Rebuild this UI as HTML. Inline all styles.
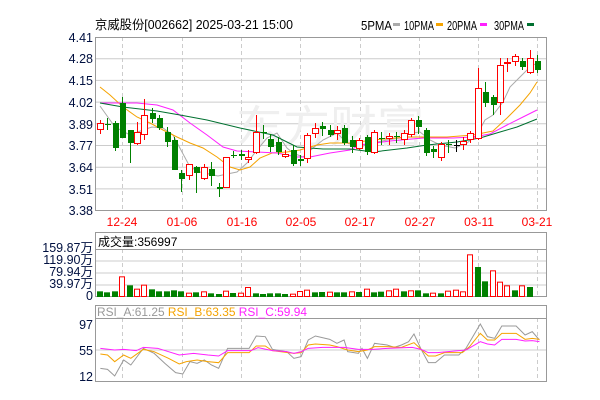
<!DOCTYPE html>
<html><head><meta charset="utf-8"><style>
html,body{margin:0;padding:0;background:#fff;}
body{width:600px;height:400px;overflow:hidden;position:relative;}
svg{position:absolute;left:0;top:0;}
text{font-family:"Liberation Sans","Noto Sans CJK SC",sans-serif;}
</style></head><body>
<svg id="s" width="600" height="400" xmlns="http://www.w3.org/2000/svg">
<g id="bg"></g>
<text x="236" y="142" font-size="44" fill="#efefef" font-family="'Noto Sans CJK SC',sans-serif" textLength="188" lengthAdjust="spacingAndGlyphs">东方财富</text>
<g id="main"></g>
<text x="95" y="29" font-size="12.5" fill="#000" textLength="198" lengthAdjust="spacingAndGlyphs">京威股份[002662] 2025-03-21 15:00</text>
<g font-size="12.5" fill="#000">
<text x="361" y="30" textLength="31" lengthAdjust="spacingAndGlyphs">5PMA</text><rect x="393" y="23" width="7" height="3" fill="#aaa"/>
<text x="404" y="30" textLength="30" lengthAdjust="spacingAndGlyphs">10PMA</text><rect x="436" y="23" width="7" height="3" fill="#f5a300"/>
<text x="447" y="30" textLength="30" lengthAdjust="spacingAndGlyphs">20PMA</text><rect x="480" y="23" width="7" height="3" fill="#ff20ff"/>
<text x="494" y="30" textLength="30" lengthAdjust="spacingAndGlyphs">30PMA</text><rect x="527" y="23" width="7" height="3" fill="#007030"/>
</g>
<g font-size="12.5" fill="#001040" text-anchor="end">
<text x="93" y="42">4.41</text><text x="93" y="63">4.28</text><text x="93" y="85">4.15</text><text x="93" y="107">4.02</text><text x="93" y="129">3.89</text><text x="93" y="150">3.77</text><text x="93" y="172">3.64</text><text x="93" y="194">3.51</text><text x="93" y="215">3.38</text>
<text x="93" y="252">159.87万</text><text x="93" y="264">119.90万</text><text x="93" y="276">79.94万</text><text x="93" y="288">39.97万</text><text x="93" y="300">0</text>
<text x="93" y="329">97</text><text x="93" y="355">55</text><text x="93" y="381">12</text>
</g>
<g font-size="12" fill="#f00" text-anchor="middle">
<text x="122" y="226">12-24</text><text x="182" y="226">01-06</text><text x="242" y="226">01-16</text><text x="301" y="226">02-05</text><text x="360" y="226">02-17</text><text x="420" y="226">02-27</text><text x="479" y="226">03-11</text><text x="537" y="226">03-21</text>
</g>
<text x="98" y="246" font-size="12" fill="#000">成交量:356997</text>
<text x="97" y="316" font-size="11.5" fill="#999" textLength="210" lengthAdjust="spacingAndGlyphs"><tspan fill="#999">RSI_A:61.25 </tspan><tspan fill="#f5a300">RSI_B:63.35 </tspan><tspan fill="#ff20ff">RSI_C:59.94</tspan></text>
</svg>
<script>
var NS="http://www.w3.org/2000/svg";
function el(p,t,a){var e=document.createElementNS(NS,t);for(var k in a)e.setAttribute(k,a[k]);document.getElementById(p).appendChild(e);return e;}
var gy=[37,58.7,80.4,102.1,123.8,145.5,167.2,188.9];
gy.forEach(function(y,i){if(i>0)el('bg','line',{x1:95,x2:546,y1:y,y2:y,stroke:'#ccc','stroke-width':1});});
[261,273,285].forEach(function(y){el('bg','line',{x1:95,x2:546,y1:y,y2:y,stroke:'#ccc'});});
el('bg','line',{x1:95,x2:546,y1:350,y2:350,stroke:'#ccc'});
var vx=[122.5,182.5,241.5,300.5,360.5,419.5,478.5,537.5];
vx.forEach(function(x){
 el('bg','line',{x1:x,x2:x,y1:37,y2:210.5,stroke:'#ccc','stroke-dasharray':'4,3'});
 el('bg','line',{x1:x,x2:x,y1:249,y2:296,stroke:'#ccc','stroke-dasharray':'4,3'});
 el('bg','line',{x1:x,x2:x,y1:318,y2:381,stroke:'#ccc','stroke-dasharray':'4,3'});
});
el('bg','rect',{x:95.5,y:37.5,width:451,height:173,fill:'none',stroke:'#999'});
el('bg','rect',{x:95.5,y:232.5,width:451,height:64,fill:'none',stroke:'#999'});
el('bg','line',{x1:95,x2:546,y1:249.5,y2:249.5,stroke:'#999'});
el('bg','rect',{x:95.5,y:305.5,width:451,height:76,fill:'none',stroke:'#999'});
el('bg','line',{x1:95,x2:546,y1:318.5,y2:318.5,stroke:'#999'});
var C=[['r',123,129,120,134],['g',124,125,118,130],['g',123,148,121,151],['g',103,138,97,138],['g',130,143,130,163],['r',132,143,122,145],['r',115,134,99,140],['g',113,119,108,123],['g',118,128,115,130],['g',132,142,127,147],
['g',140,170,137,170],['g',173,179,170,192],['r',164,175,164,180],['g',167,173,166,193],['r',167,178,164,180],['g',169,176,162,186],['g',187,189,183,197],['r',157,187,157,187],['g',155,156,151,158],['g',154,156,150,160],
['r',157,159,150,163],['r',132,152,115,154],['g',132,133,125,139],['g',139,147,134,152],['g',142,152,137,155],['r',154,156,150,158],['g',150,164,145,166],['g',159,161,155,166],['r',135,158,133,163],['r',128,133,123,138],
['g',126,129,122,136],['g',130,135,125,137],['r',130,133,126,140],['g',128,143,125,145],['g',140,147,136,153],['r',140,148,138,150],['g',137,152,135,155],['r',132,152,130,154],['g',138,139,132,145],['r',136,138,133,145],
['g',136,137,132,143],['r',133,139,130,145],['r',120,134,118,137],['g',120,127,116,134],['g',130,153,128,156],['g',149,152,146,158],['r',144,157,142,161],['g',144,145,140,153],['k',145,146,140,152],['r',141,144,137,150],
['r',133,139,131,143],['r',88,138,68,140],['g',92,103,82,107],['g',97,105,95,115],['r',65,102,58,115],['r',62,63,58,72],['r',56,61,54,66],['g',61,67,58,70],['r',58,72,50,74],['g',61,70,55,73]];
var V=[[180,'g'],[183,'g'],[180,'g'],[138,'r'],[162,'g'],[175,'r'],[163,'r'],[174,'g'],[180,'g'],[180,'g'],[177,'g'],[180,'g'],[187,'r'],[183,'g'],[183,'r'],[186,'g'],[188,'g'],[181,'r'],[185,'g'],[187,'r'],[170,'r'],[186,'g'],[188,'g'],[186,'g'],[186,'g'],[188,'g'],[190,'r'],[182,'r'],[178,'r'],[183,'g'],[182,'g'],[184,'r'],[183,'g'],[183,'g'],[183,'r'],[182,'g'],[175,'r'],[183,'g'],[181,'g'],[180,'r'],[175,'r'],[180,'g'],[180,'r'],[177,'g'],[186,'g'],[187,'r'],[186,'g'],[181,'r'],[178,'r'],[183,'r'],[72,'r'],[107,'g'],[150,'g'],[120,'r'],[154,'r'],[165,'r'],[177,'g'],[165,'r'],[167,'g']];
var col={r:'#f00',g:'#008000',k:'#000'};
var N=C.length;
function X(i){return 100+i*(537-100)/(N-1);}
function pl(pts,c){el('main','polyline',{points:pts.map(function(p){return p[0]+','+p[1];}).join(' '),fill:'none',stroke:c,'stroke-width':1});}
pl([[100,106],[115,127],[130,135],[143,130],[152,127],[163,128],[173,135],[182,152],[190,167],[200,172],[218,176],[227,174],[237,172],[247,163],[257,150],[267,138],[277,133],[287,148],[293,153],[303,157],[313,148],[323,140],[337,133],[347,143],[360,147],[373,143],[387,140],[400,138],[412,133],[420,132],[430,140],[440,145],[455,148],[467,143],[477,135],[485,120],[493,115],[503,102],[510,87],[520,77],[530,67],[537,63]],'#aaa');
pl([[100,87],[110,95],[123,107],[137,117],[150,123],[163,130],[177,137],[190,143],[203,148],[217,157],[230,167],[240,170],[250,167],[260,158],[272,153],[287,152],[300,150],[317,145],[330,143],[350,143],[373,140],[407,137],[427,137],[447,137],[473,135],[493,131],[507,118],[520,105],[530,93],[537,82]],'#f5a300');
pl([[100,103],[137,103],[157,105],[173,110],[190,123],[207,135],[223,147],[237,151],[257,152],[277,153],[297,157],[310,157],[330,153],[350,150],[360,145],[390,141],[423,138],[453,138],[473,137],[490,134],[507,125],[523,117],[537,110]],'#ff20ff');
pl([[100,103],[123,107],[157,111],[180,115],[207,120],[240,128],[273,135],[297,147],[323,149],[350,149],[373,152],[407,148],[427,145],[457,142],[480,138],[500,132],[517,127],[537,119]],'#007030');
C.forEach(function(c,i){
 var x=Math.round(X(i)),cc=col[c[0]];
 el('main','line',{x1:x+0.5,x2:x+0.5,y1:c[3],y2:c[4],stroke:cc});
 var h=Math.max(1,c[2]-c[1]);
 if(c[0]=='r') el('main','rect',{x:x-2.5,y:c[1]+0.5,width:6,height:h,fill:'#fff',stroke:cc});
 else el('main','rect',{x:x-2,y:c[1],width:6,height:h,fill:cc});
});
V.forEach(function(v,i){
 var x=Math.round(X(i)),h=(197-v[0])/3,cc=col[v[1]];
 if(v[1]=='r') el('main','rect',{x:x-2.5,y:296.5-h,width:5,height:h,fill:'#fff',stroke:cc});
 else el('main','rect',{x:x-3,y:297-h,width:6,height:h,fill:cc});
});
function rl(pts,c){pl(pts.map(function(p){return [p[0]/2.79,230+p[1]/3];}),c);}
rl([[280,415],[300,418],[320,438],[345,390],[365,405],[400,355],[430,370],[460,400],[490,428],[510,432],[530,395],[550,400],[570,390],[590,405],[610,415],[635,355],[670,355],[695,355],[715,318],[740,320],[760,358],[800,365],[820,385],[840,380],[860,330],[880,318],[920,328],[940,340],[960,330],[970,365],[1000,370],[1010,355],[1025,385],[1045,340],[1080,345],[1100,352],[1120,345],[1140,335],[1155,312],[1175,358],[1195,398],[1215,398],[1240,375],[1280,375],[1300,355],[1340,282],[1360,320],[1380,325],[1400,288],[1440,288],[1465,315],[1485,305],[1505,330]],'#999');
rl([[280,372],[300,375],[320,395],[345,375],[365,385],[400,358],[430,365],[470,385],[500,402],[520,395],[550,390],[580,395],[610,398],[635,368],[695,368],[715,348],[740,348],[760,362],[820,370],[840,368],[860,345],[880,342],[920,345],[940,350],[970,360],[1000,365],[1025,360],[1045,350],[1080,350],[1120,352],[1155,338],[1175,358],[1195,378],[1215,378],[1240,368],[1290,368],[1310,350],[1340,310],[1360,330],[1380,330],[1400,310],[1440,310],[1465,328],[1485,325],[1505,328]],'#f5a300');
rl([[280,355],[320,360],[345,358],[380,362],[400,352],[440,355],[500,375],[540,370],[580,375],[610,378],[635,362],[700,362],[720,353],[760,362],[800,365],[820,370],[840,365],[860,355],[900,352],[960,352],[1000,358],[1040,358],[1080,355],[1150,352],[1175,358],[1195,368],[1220,368],[1300,360],[1340,335],[1360,342],[1380,345],[1400,328],[1440,328],[1465,333],[1485,332],[1505,335]],'#ff20ff');
</script>
</body></html>
